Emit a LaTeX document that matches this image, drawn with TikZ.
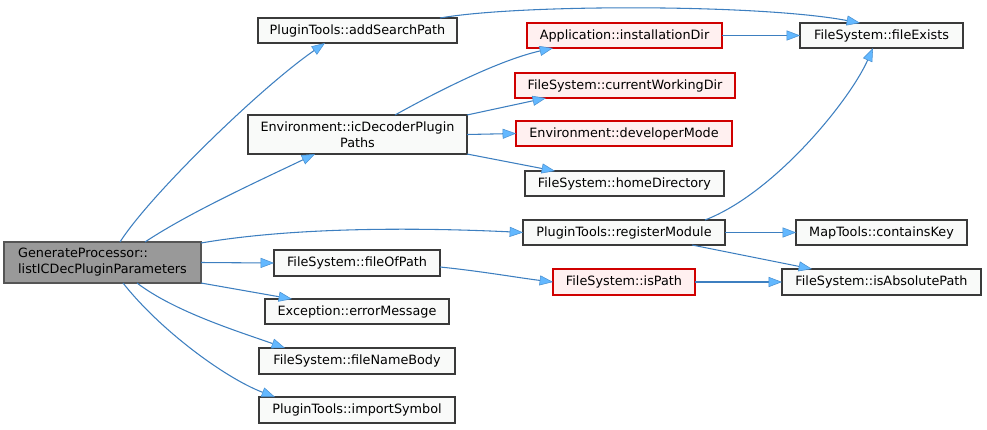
\documentclass[tikz,border=0pt]{standalone}
\usepackage{fontspec}
\setmainfont{DejaVu Sans}
\usetikzlibrary{arrows.meta,calc}
\definecolor{edgec}{HTML}{3D7FC0}
\definecolor{tipc}{HTML}{63B8FF}
\definecolor{tipb}{HTML}{4A90D0}
\definecolor{boxb}{HTML}{3A3A3A}
\definecolor{boxf}{HTML}{F9FAF9}
\definecolor{redb}{HTML}{D00000}
\definecolor{redf}{HTML}{FFF0F0}
\definecolor{mainf}{HTML}{999999}
\definecolor{mainb}{HTML}{555555}
\begin{document}
\begin{tikzpicture}[x=0.75pt,y=-0.75pt,
  fn/.style={draw=boxb,fill=boxf,line width=1pt,inner sep=0pt,outer sep=0pt,
    minimum height=18.75pt,font=\fontsize{9.6}{12}\selectfont,align=center},
  redfn/.style={fn,draw=redb,fill=redf},
  mainfn/.style={fn,draw=mainb,fill=mainf,align=left},
  call/.style={draw=edgec,line width=0.8pt,
    -{Triangle[length=10pt,width=7.5pt,color=tipb,fill=tipc,line width=0.4pt]}}]
\useasboundingbox (0,0) rectangle (987,429);
% nodes
\node[mainfn,minimum width=147.75pt,minimum height=30.75pt] (main) at (102.5,262.5) {GenerateProcessor::\\listICDecPluginParameters};
\node[fn,minimum width=149.25pt] (asp) at (357.5,30.5) {PluginTools::addSearchPath};
\node[fn,minimum width=164.25pt,minimum height=29.25pt] (icd) at (357.5,134.5) {Environment::icDecoderPlugin\\Paths};
\node[redfn,minimum width=146.25pt] (inst) at (624.5,35.5) {Application::installationDir};
\node[redfn,minimum width=165pt] (cwd) at (625,85.5) {FileSystem::currentWorkingDir};
\node[redfn,minimum width=162pt] (dev) at (624,133.5) {Environment::developerMode};
\node[fn,minimum width=149.25pt] (home) at (624.5,183.5) {FileSystem::homeDirectory};
\node[fn,minimum width=122.25pt] (fex) at (881.5,35.5) {FileSystem::fileExists};
\node[fn,minimum width=151.5pt] (reg) at (624,232.5) {PluginTools::registerModule};
\node[fn,minimum width=128.25pt] (ck) at (881.5,232.5) {MapTools::containsKey};
\node[fn,minimum width=124.5pt,minimum height=19.5pt] (fop) at (357,263) {FileSystem::fileOfPath};
\node[redfn,minimum width=106.5pt,minimum height=19.5pt] (isp) at (624,282) {FileSystem::isPath};
\node[fn,minimum width=149.25pt,minimum height=19.5pt] (iap) at (881.5,282) {FileSystem::isAbsolutePath};
\node[fn,minimum width=138pt] (err) at (357,311.5) {Exception::errorMessage};
\node[fn,minimum width=147pt,minimum height=19.5pt] (fnb) at (357,361) {FileSystem::fileNameBody};
\node[fn,minimum width=147pt,minimum height=19.5pt] (imp) at (357,410) {PluginTools::importSymbol};
% edges from main
\draw[call] ($(main.north)+(17.5,0)$) .. controls (150,195) and (260,88) .. ($(asp.south)+(-32.5,0)$);
\draw[call] ($(main.north)+(42.5,0)$) .. controls (190,212) and (265,178) .. ($(icd.south)+(-42.5,0)$);
\draw[call] ($(main.north east)+(0,1)$) .. controls (300,226) and (430,228) .. (reg.west);
\draw[call] (main.east) -- (fop.west);
\draw[call] ($(main.south east)+(0,0)$) -- ($(err.north)+(-65,0)$);
\draw[call] ($(main.south)+(34.5,0)$) .. controls (175,312) and (240,332) .. ($(fnb.north)+(-72,0)$);
\draw[call] ($(main.south)+(20.5,0)$) .. controls (160,330) and (225,378) .. ($(imp.north)+(-82,0)$);
% second level
\draw[call] ($(asp.north)+(82.5,0)$) .. controls (520,4) and (760,4) .. ($(fex.north)+(-21.5,0)$);
\draw[call] ($(icd.north)+(37.5,0)$) .. controls (440,90) and (500,60) .. ($(inst.south)+(-71.5,0)$);
\draw[call] (icd.north east) -- ($(cwd.south)+(-79,0)$);
\draw[call] (icd.east) -- (dev.west);
\draw[call] (icd.south east) -- ($(home.north)+(-69.5,0)$);
\draw[call] (inst.east) -- (fex.west);
\draw[call] ($(reg.north)+(81,0)$) .. controls (775,193) and (850,100) .. ($(fex.south)+(-8.5,0)$);
\draw[call] (reg.east) -- (ck.west);
\draw[call] ($(reg.south)+(68,0)$) -- ($(iap.north)+(-69.5,0)$);
\draw[call] ($(fop.east)+(0,4)$) .. controls (480,271) and (520,278) .. (isp.west);
\draw[call] (isp.east) -- (iap.west);
\end{tikzpicture}
\end{document}
